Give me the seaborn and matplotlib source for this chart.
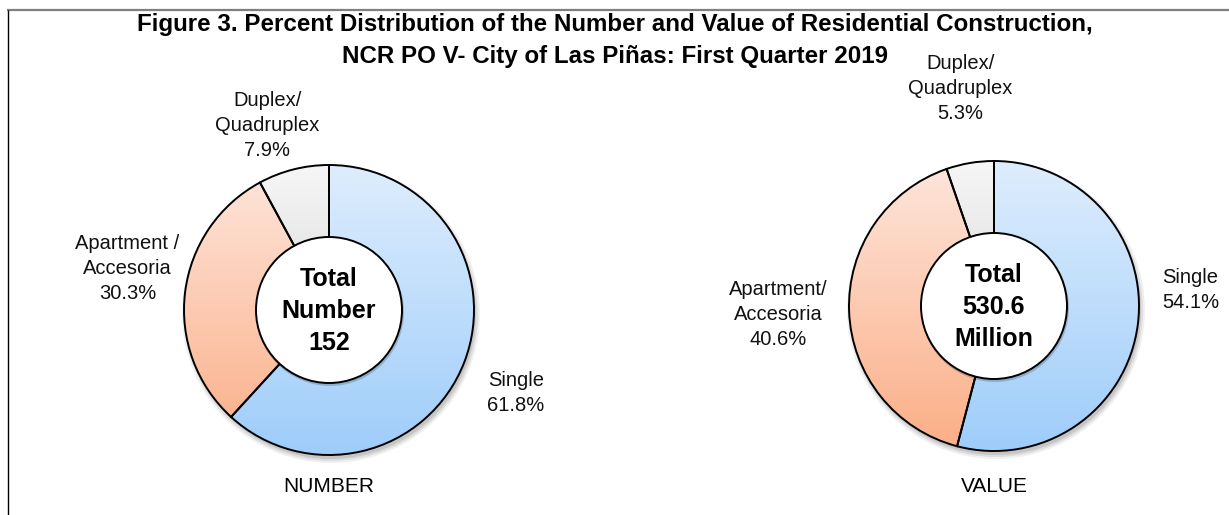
import numpy as np
import matplotlib
matplotlib.use("Agg")
import matplotlib.pyplot as plt
import seaborn as sns
from matplotlib.patches import Circle
from matplotlib.colors import LinearSegmentedColormap

# Data
categories = ["Single", "Apartment/Accesoria", "Duplex/Quadruplex"]
number_labels = ["Single", "Apartment /\nAccesoria", "Duplex/\nQuadruplex"]
value_labels = ["Single", "Apartment/\nAccesoria", "Duplex/\nQuadruplex"]
number_pct = [61.8, 30.3, 7.9]
value_pct = [54.1, 40.6, 5.3]
total_number = "152"
total_value = "530.6"

# gradient colours (top, bottom) for each category
grad_colors = [("#deedfd", "#9ecdfa"),
               ("#fee6dc", "#fbae86"),
               ("#f6f6f6", "#c6c6c6")]

sns.set_theme(style="white")
plt.rcParams['font.family'] = ['Liberation Sans', 'DejaVu Sans']
plt.rcParams['text.color'] = 'black'

W, H = 1229, 515
fig = plt.figure(figsize=(12.29, 5.15), dpi=100)
ax = fig.add_axes([0, 0, 1, 1])


def donut(cx, cy, pct, names, dists, shifts, center_text, caption):
    r = 145
    # soft shadow under the ring
    for k, a in enumerate([0.06, 0.08, 0.10]):
        ax.add_patch(Circle((cx + 2, cy - 4), r + 4 - 2 * k, facecolor='black',
                            edgecolor='none', alpha=a, zorder=0.5))
    wedges, _ = ax.pie(pct, center=(cx, cy), radius=r, startangle=90,
                       counterclock=False, frame=True,
                       wedgeprops=dict(edgecolor='black', linewidth=1.4,
                                       facecolor='none', zorder=2))
    grad = np.linspace(0, 1, 256)[:, None]
    for w, (c_top, c_bot) in zip(wedges, grad_colors):
        cmap = LinearSegmentedColormap.from_list("g", [c_top, c_bot])
        im = ax.imshow(grad, extent=(cx - r, cx + r, cy - r, cy + r), origin='upper',
                       cmap=cmap, aspect='auto', zorder=1, interpolation='bilinear')
        im.set_clip_path(w)
        w.set_zorder(2)
    # labels, placed around the middle angle of each wedge
    for w, name, p, d, s in zip(wedges, names, pct, dists, shifts):
        th = np.deg2rad((w.theta1 + w.theta2) / 2 + s)
        ax.text(cx + d * r * np.cos(th), cy + d * r * np.sin(th), f"{name}\n{p:.1f}%",
                ha='center', va='center', fontsize=14.5, linespacing=1.4,
                color='#111111')
    # center circle
    ax.add_patch(Circle((cx + 1, cy - 2), 74, facecolor='black', edgecolor='none',
                        alpha=0.18, zorder=3))
    ax.add_patch(Circle((cx, cy), 73, facecolor='white', edgecolor='black',
                        linewidth=1.4, zorder=4))
    ax.text(cx, cy - 1, center_text, ha='center', va='center', fontsize=18,
            fontweight='bold', linespacing=1.4, zorder=5)
    ax.text(cx, 28, caption, ha='center', va='center', fontsize=15)


donut(329, 205, number_pct, number_labels, [1.41, 1.42, 1.34], [-2.6, -4.7, 4.3],
      f"Total\nNumber\n{total_number}", "NUMBER")
donut(994, 209, value_pct, value_labels, [1.36, 1.49, 1.52], [12, 0, -0.8],
      f"Total\n{total_value}\nMillion", "VALUE")

# title
ax.text(615, H - 25, "Figure 3. Percent Distribution of the Number and Value of Residential Construction,",
        ha='center', va='center', fontsize=17.4, fontweight='bold')
ax.text(615, H - 57, "NCR PO V- City of Las Piñas: First Quarter 2019",
        ha='center', va='center', fontsize=17.4, fontweight='bold')

# frame lines
ax.plot([7, W], [H - 9.5, H - 9.5], color='#7f7f7f', lw=1.6, solid_capstyle='butt')
ax.plot([7.5, 7.5], [0, H - 9.5], color='black', lw=1.0, solid_capstyle='butt')

ax.set_xlim(0, W)
ax.set_ylim(0, H)
ax.set_aspect('equal')
ax.axis('off')

fig.savefig("out.png", dpi=100)
